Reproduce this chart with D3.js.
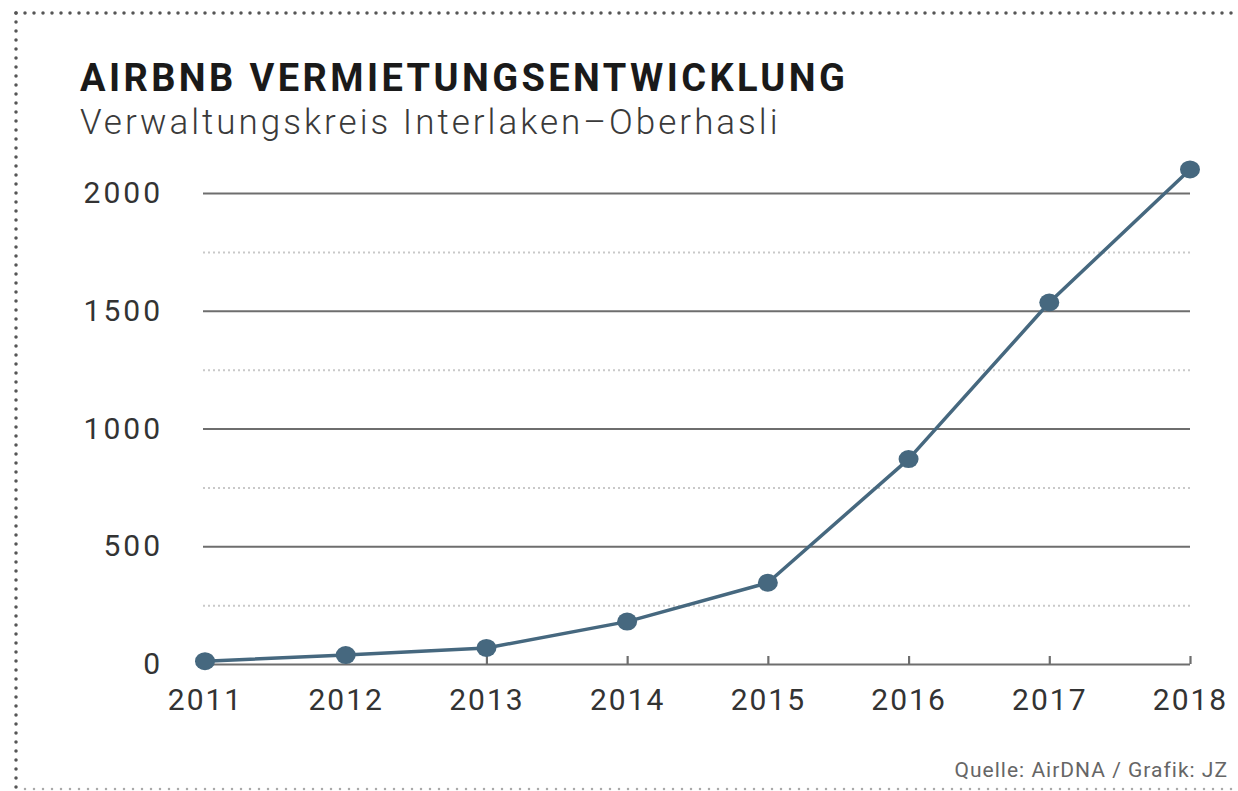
<!DOCTYPE html>
<html>
<head>
<meta charset="utf-8">
<script src="https://cdn.jsdelivr.net/npm/d3@7"></script>
<style>
  body { margin: 0; background: #fff; }
  svg { display: block; }
</style>
</head>
<body>
<div id="chart"></div>
<script>
/**
 * DATA
 * */
const years = [2011, 2012, 2013, 2014, 2015, 2016, 2017, 2018];
const listings = [12, 38, 68, 180, 345, 870, 1535, 2100];
const majorTicks = [0, 500, 1000, 1500, 2000];
const minorTicks = [250, 750, 1250, 1750];

const titleText = "AIRBNB VERMIETUNGSENTWICKLUNG";
const subtitleText = "Verwaltungskreis Interlaken–Oberhasli";
const sourceText = "Quelle: AirDNA / Grafik: JZ";

/**
 * CONSTANTS
 * */
const width = 1238,
  height = 791,
  margin = { top: 193, bottom: 127, left: 203, right: 48 };

const lineColor = "#46687f";
const font = "Roboto, 'DejaVu Sans', sans-serif";

const svg = d3.select("#chart")
  .append("svg")
  .attr("width", width)
  .attr("height", height)
  .style("font-family", font);

// dotted frame
const frame = svg.append("g")
  .attr("fill", "none")
  .attr("stroke-linecap", "round")
  .attr("stroke-dasharray", "0 9");

frame.append("line")
  .attr("x1", 16).attr("y1", 13).attr("x2", width).attr("y2", 13)
  .attr("stroke", "#555").attr("stroke-width", 3.5);
frame.append("line")
  .attr("x1", 16).attr("y1", 13).attr("x2", 16).attr("y2", height)
  .attr("stroke", "#555").attr("stroke-width", 3.5);
frame.append("line")
  .attr("x1", 25).attr("y1", 789).attr("x2", width).attr("y2", 789)
  .attr("stroke", "#aaa").attr("stroke-width", 2.5);

// titles
svg.append("text")
  .attr("x", 80).attr("y", 91)
  .attr("font-size", 38)
  .attr("font-weight", 700)
  .attr("letter-spacing", 3.4)
  .attr("fill", "#1a1a1a")
  .text(titleText);

svg.append("text")
  .attr("x", 80).attr("y", 134)
  .attr("font-size", 35)
  .attr("font-weight", 300)
  .attr("letter-spacing", 3)
  .attr("fill", "#3a3a3a")
  .text(subtitleText);

svg.append("text")
  .attr("x", 1228).attr("y", 777)
  .attr("text-anchor", "end")
  .attr("font-size", 21)
  .attr("letter-spacing", 1)
  .attr("fill", "#666")
  .text(sourceText);

/**
 * SCALES
 * */
const x = d3.scalePoint()
  .domain(years)
  .range([205, width - margin.right]);

const y = d3.scaleLinear()
  .domain([0, 2000])
  .range([height - margin.bottom, margin.top]);

const gridLeft = margin.left;
const gridRight = width - margin.right;

// minor dotted gridlines
const minorAxis = d3.axisRight(y)
  .tickValues(minorTicks)
  .tickSize(gridRight - gridLeft)
  .tickFormat("");

svg.append("g")
  .attr("transform", `translate(${gridLeft},0)`)
  .call(minorAxis)
  .call(g => g.select(".domain").remove())
  .call(g => g.selectAll(".tick line")
    .attr("stroke", "#c9c9c9")
    .attr("stroke-width", 2)
    .attr("stroke-dasharray", "2 3"));

// major gridlines + y labels
const yAxis = d3.axisLeft(y)
  .tickValues(majorTicks)
  .tickSize(-(gridRight - gridLeft))
  .tickPadding(40)
  .tickFormat(d3.format("d"));

svg.append("g")
  .attr("transform", `translate(${gridLeft},0)`)
  .call(yAxis)
  .call(g => g.select(".domain").remove())
  .call(g => g.selectAll(".tick line")
    .attr("stroke", "#6e6e6e")
    .attr("stroke-width", 2.2))
  .call(g => g.selectAll(".tick text")
    .attr("font-size", 30)
    .attr("font-family", font)
    .attr("letter-spacing", 3)
    .attr("fill", "#333"));

// x axis: small ticks pointing up from baseline
const xAxis = d3.axisBottom(x)
  .tickSize(-8)
  .tickPadding(25)
  .tickFormat(d => d);

svg.append("g")
  .attr("transform", `translate(0,${y(0)})`)
  .call(xAxis)
  .call(g => g.select(".domain").remove())
  .call(g => g.selectAll(".tick line")
    .attr("stroke", "#6e6e6e")
    .attr("stroke-width", 2.2))
  .call(g => g.selectAll(".tick text")
    .attr("font-size", 30)
    .attr("font-family", font)
    .attr("letter-spacing", 2)
    .attr("fill", "#333"));

/**
 * LINE + DOTS
 * */
const points = years.map((yr, i) => ({ year: yr, value: listings[i] }));

const line = d3.line()
  .x(d => x(d.year))
  .y(d => y(d.value));

svg.append("path")
  .datum(points)
  .attr("fill", "none")
  .attr("stroke", lineColor)
  .attr("stroke-width", 3.5)
  .attr("stroke-linejoin", "round")
  .attr("d", line);

svg.selectAll("ellipse.dot")
  .data(points)
  .join("ellipse")
  .attr("class", "dot")
  .attr("cx", d => x(d.year))
  .attr("cy", d => y(d.value))
  .attr("rx", 10)
  .attr("ry", 9)
  .attr("fill", lineColor);
</script>
</body>
</html>
